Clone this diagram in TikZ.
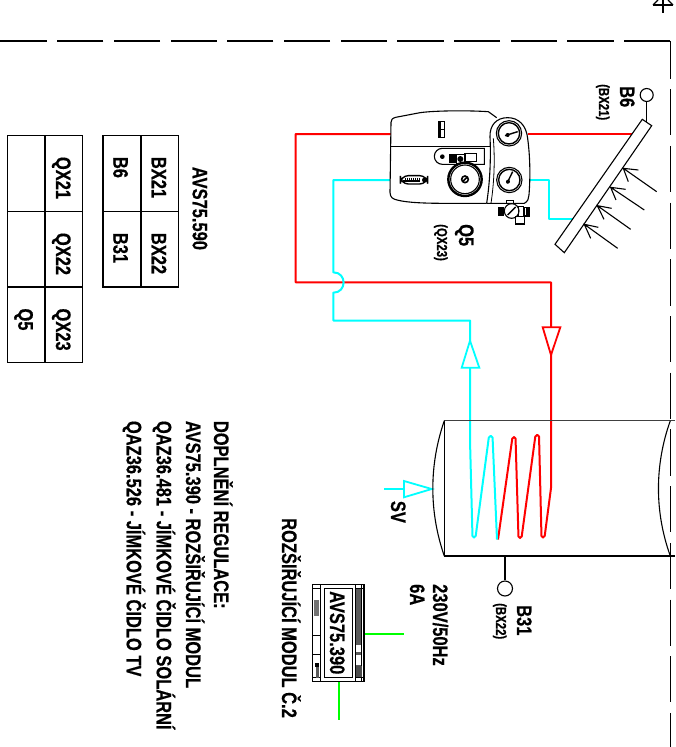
\documentclass[tikz,border=0pt]{standalone}
\usepackage{fontspec}
\setmainfont{Liberation Sans}[FakeStretch=0.785,BoldFeatures={FakeBold=0.5}]
\definecolor{pipered}{HTML}{FF0000}
\definecolor{pipecyan}{HTML}{00FFFF}
\definecolor{wiregreen}{HTML}{00FF00}
\tikzset{
  lab/.style={rotate=-90,anchor=base west,inner sep=0pt,font=\fontsize{21}{21}\selectfont\bfseries},
  smalllab/.style={lab,font=\fontsize{14.5}{14.5}\selectfont\bfseries},
  ln/.style={draw=black,line width=1.1pt},
  thin1/.style={draw=black,line width=0.8pt},
  redpipe/.style={draw=pipered,line width=2pt,line join=round},
  cyanpipe/.style={draw=pipecyan,line width=2pt,line join=round},
  greenwire/.style={draw=wiregreen,line width=2pt},
  dashb/.style={draw=black,line width=1.1pt,dash pattern=on 46.2pt off 10.5pt},
  tankline/.style={draw=black!75,line width=1.5pt},
}
\begin{document}
\begin{tikzpicture}[x=1pt,y=-1pt]
\useasboundingbox (0,0) rectangle (675,747);
% frame
\coordinate (fc) at (670.3,41);
\coordinate (fl) at (0,41);
\coordinate (fb) at (670.3,747);
\draw[dashb] (fc) -- (fl);
\draw[dashb,dash phase=8.5pt] (fc) -- (fb);
\draw[ln] (663,0) -- (663,13);
\draw[ln] (653,5) -- (673,5);
\draw[ln] (653,5) -- (658,0) (673,5) -- (668,0);
% tables
\draw[ln] (7.3,135.7) rectangle (82.7,362.3);
\draw[ln] (45,135.7) -- (45,362.3) (7.3,211.3) -- (82.7,211.3) (7.3,287) -- (82.7,287);
\draw[ln] (103,135.7) rectangle (178.3,287);
\draw[ln] (141,135.7) -- (141,287) (103,211.3) -- (178.3,211.3);
\node[lab] (tavs) at (192.7,166.7) {AVS75.590};
\node[lab] (tbx21) at (151.7,156.7) {BX21};
\node[lab] (tbx22) at (151.7,232.7) {BX22};
\node[lab] (tb6) at (113.3,156.7) {B6};
\node[lab] (tb31) at (113.3,232.7) {B31};
\node[lab] (tq21) at (56,156.7) {QX21};
\node[lab] (tq22) at (56,232.7) {QX22};
\node[lab] (tq23) at (56,308.3) {QX23};
\node[lab] (tq5) at (18.3,308.3) {Q5};
% notes
\node[lab] (n1) at (214,420.7) {DOPLNĚNÍ REGULACE:};
\node[lab] (n2) at (186,420.7) {AVS75.390 - ROZŠIŘUJÍCÍ MODUL};
\node[lab] (n3) at (156.7,420.7) {QAZ36.481 - JÍMKOVÉ ČIDLO SOLÁRNÍ};
\node[lab] (n4) at (126.7,420.7) {QAZ36.526 - JÍMKOVÉ ČIDLO TV};
\node[lab] (n5) at (282,518) {ROZŠIŘUJÍCÍ MODUL Č.2};
\node[lab] (n6) at (433,584) {230V/50Hz};
\node[lab] (n7) at (410,584) {6A};
\node[lab] (sv) at (391,500.7) {SV};
\node[lab] (lb31) at (517,605) {B31};
\node[smalllab] (lbx22) at (496,603) {(BX22)};
\node[lab] (lb6) at (620,86) {B6};
\node[smalllab] (lbx21) at (599,84) {(BX21)};
\node[lab] (lq5) at (459,224) {Q5};
\node[smalllab] (lqx23) at (437,224) {(QX23)};
% pipes
\draw[redpipe] (391,134) -- (295.7,134) -- (295.7,282.3) -- (551,282.3) -- (551,488)
  [rounded corners=1.6pt] -- (544.5,537.5) -- (541.5,537.5) -- (539,435) -- (535.5,435) -- (521.5,538) -- (518.5,538) -- (515.5,437) -- (512.5,437) -- (498,539.5);
\draw[cyanpipe] (391,180) -- (333.3,180) -- (333.3,272.3) .. controls (347,272.3) and (347,292.7) .. (333.3,292.7) -- (333.3,320.5) -- (470,320.5) -- (470,440)
  [rounded corners=1.6pt] -- (472.5,537.5) -- (475.5,537.5) -- (489,436) -- (492.5,436) -- (497,539.5);
\draw[redpipe] (528,134) -- (632,134);
\draw[cyanpipe] (528,180) -- (549.3,180) -- (549.3,219) -- (573.3,219);
% flow arrows
\path[fill=white,draw=pipered,line width=1.8pt,line join=miter] (542.7,327.3) -- (560.3,327.3) -- (551,355) -- cycle;
\path[fill=white,draw=pipecyan,line width=1.8pt,line join=miter] (461.7,367.7) -- (479.3,367.7) -- (470,340.7) -- cycle;
\draw[cyanpipe,line width=1.6pt] (384,489) -- (404,489);
\path[fill=white,draw=pipecyan,line width=1.8pt,line join=miter] (404,481) -- (404,497.3) -- (431.7,489) -- cycle;
% tank
\draw[tankline] (444.3,420.7) -- (675,420.7);
\draw[ln] (444.3,556) -- (675,556);
\draw[ln] (444.3,420.7) -- (444.3,556);
\draw[ln] (444.3,420.7) .. controls (429,465) and (429,512) .. (444.3,556);
\draw[ln] (670.3,420.7) .. controls (654.5,465) and (654.5,512) .. (670.3,556);
\node[circle,draw=black,line width=1.1pt,minimum size=15pt,inner sep=0pt] (b31) at (505,588.5) {};
\coordinate (tankb) at (505,556);
\draw[ln] (tankb) -- (b31);
% collector
\draw[ln] (642.3,119.3) -- (651.7,125.7) -- (564.3,252.7) -- (555,244.3) -- cycle;
\node[circle,draw=black,line width=1.1pt,minimum size=13pt,inner sep=0pt] (b6) at (646.7,95) {};
\coordinate (colt) at (646.7,122);
\draw[ln] (b6) -- (colt);
\begin{scope}[shift={(380,80)},x=0.3333pt,y=-0.3333pt]
 \draw[ln] (830,335) -- (730,265) (775,270) -- (730,265) -- (745,305);
 \draw[ln] (793,390) -- (692,322) (737,328) -- (692,322) -- (708,360);
 \draw[ln] (752,448) -- (652,377) (695,385) -- (652,377) -- (672,418);
 \draw[ln] (713,505) -- (613,433) (655,442) -- (613,433) -- (632,475);
\end{scope}
% pump group
\begin{scope}[shift={(385,105)},x=0.3333pt,y=-0.3333pt]
 \draw[ln,fill=white] (335,38) -- (310,20) .. controls (230,15) and (130,18) .. (100,24) -- (32,37) .. controls (22,40) and (18,44) .. (18,52) -- (15,262) .. controls (16,278) and (22,282) .. (40,286) .. controls (70,293) and (120,295) .. (180,295) -- (305,295);
 \draw[ln,fill=white] (305,295) -- (418,295) .. controls (428,290) and (432,280) .. (432,270) .. controls (436,220) and (436,160) .. (428,100) .. controls (424,60) and (400,38) .. (368,38) .. controls (335,38) and (314,60) .. (315,95) .. controls (318,160) and (315,230) .. (305,295);
 \draw[thin1] (318,295) .. controls (328,230) and (330,160) .. (325,100);
 \draw[ln] (18,124) -- (318,124);
 \draw[ln] (162,50) rectangle (178,97);
 \fill (162,50) rectangle (168,97);
 \draw[thin1] (162,72) -- (178,72);
 \draw[ln] (372,85) circle[radius=38];
 \draw[line width=1.4pt] (372,85) circle[radius=32];
 \draw[line width=1.4pt] (360,92) -- (398,80);
 \fill (368,90) circle[radius=6];
 \draw[ln] (373,225) circle[radius=38];
 \draw[line width=1.4pt] (373,225) circle[radius=32];
 \draw[line width=1.4pt] (366,235) -- (383,200);
 \fill (369,230) circle[radius=6];
 \draw[ln] (298,130) -- (172,130) arc[start angle=-90,end angle=-270,radius=24] -- (298,178) -- cycle;
 \fill (172,155) circle[radius=7];
 \draw[ln,fill=black] (195,150) rectangle (215,172);
 \draw[ln,fill=white] (240,145) rectangle (275,170);
 \draw[ln,fill=white] (215,148) rectangle (240,175);
 \fill (226,162) circle[radius=9];
 \draw[line width=2.4pt,fill=white] (240,223) circle[radius=50];
 \draw[ln] (240,223) circle[radius=43];
 \draw[line width=1.6pt] (240,223) circle[radius=10];
 \draw[line width=1.6pt] (233,230) -- (247,216);
 \draw[line width=1.4pt,rounded corners=8pt] (46,212) rectangle (128,237);
 \foreach \tx in {60,66,...,102} {\draw[line width=0.8pt] (\tx,219) -- (\tx,230);}
 \draw[line width=1.4pt] (54,228) -- (105,228);
 \fill (118,225) circle[radius=7];
 \draw[ln] (365,286) rectangle (385,296);
 \fill (338,307) rectangle (358,332);
 \draw[ln,fill=white] (380,318) circle[radius=22];
 \draw[line width=1.4pt] (368,330) -- (392,306);
 \draw[ln] (400,305) rectangle (416,335);
 \fill (416,305) rectangle (434,335);
 \fill[white] (420,309) rectangle (424,331);
 \draw[ln] (392,335) rectangle (418,357);
\end{scope}
% module
\coordinate (mr) at (364,633.5);
\coordinate (mre) at (404,633.5);
\coordinate (mb) at (338.5,681.7);
\coordinate (mbe) at (338.5,720);
\draw[greenwire] (mr) -- (mre);
\draw[greenwire] (mb) -- (mbe);
\begin{scope}[shift={(270,510)},x=0.3333pt,y=-0.3333pt]
 \draw[line width=1.2pt] (128,224) rectangle (282,515);
 \draw[line width=1.2pt] (163,236) rectangle (247,502);
 \draw[thin1] (150,224) -- (150,515) (256,224) -- (256,515) (275,224) -- (275,515);
 \fill[black!65] (258,236) rectangle (273,495);
 \fill[white] (258,405) rectangle (273,425);
 \fill[white] (258,435) rectangle (273,465);
 \draw[thin1] (128,236) -- (150,236) (128,503) -- (150,503) (256,236) -- (282,236) (256,503) -- (282,503);
 \fill[black!55] (133,270) rectangle (148,318);
 \draw[thin1] (128,375) -- (150,375) (128,432) -- (150,432);
 \fill (135,460) rectangle (146,470);
 \fill[black!65] (138,472) rectangle (148,503);
 \fill[black!70] (258,468) rectangle (275,500);
\end{scope}
\node[lab] (avsm) at (330,591) {AVS75.390};
\end{tikzpicture}
\end{document}
